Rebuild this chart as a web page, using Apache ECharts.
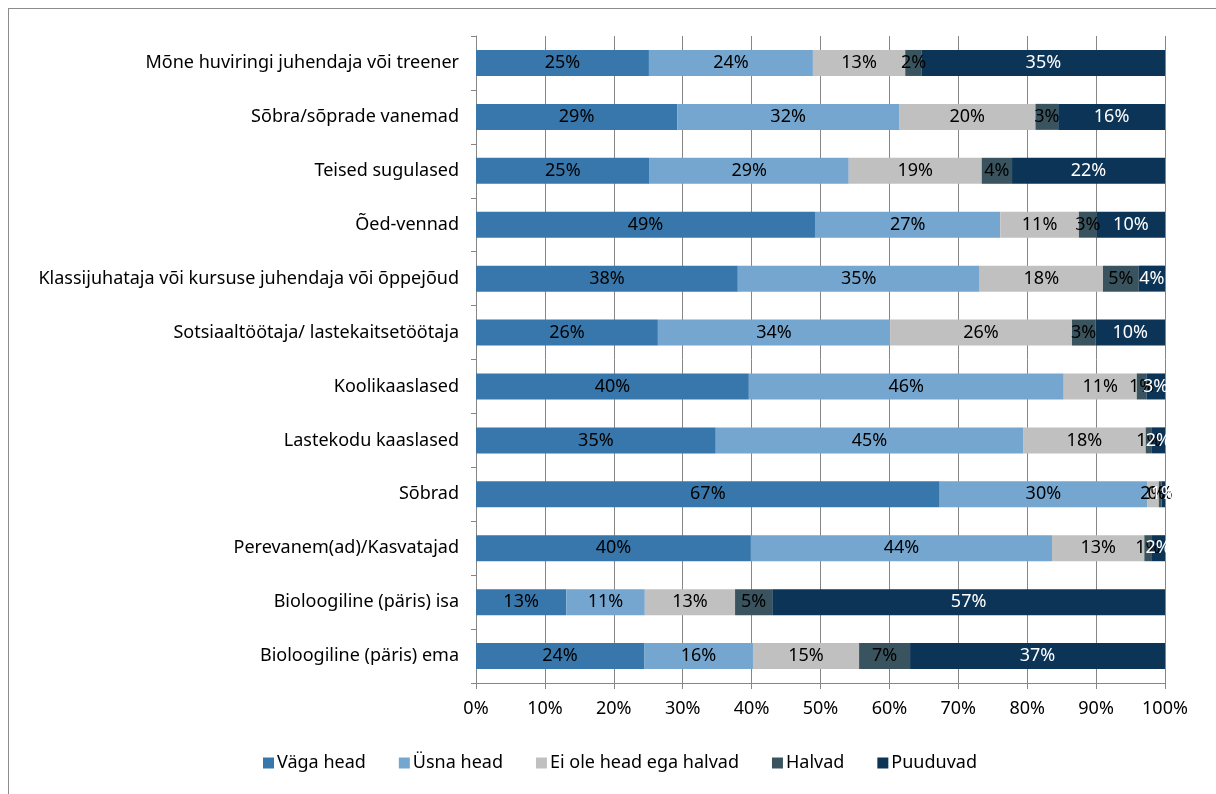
<!DOCTYPE html>
<html>
<head>
<meta charset="utf-8">
<script src="https://cdn.jsdelivr.net/npm/echarts@6/dist/echarts.min.js"></script>
<style>
  html, body { margin: 0; padding: 0; background: #fff; }
  #frame { position: absolute; left: 8px; top: 8px; width: 1300px; height: 900px; border: 1px solid #8c8c8c; }
  #chart { position: absolute; left: 0; top: 0; width: 1216px; height: 794px; }
</style>
</head>
<body>
<div id="frame"></div>
<div id="chart"></div>
<script>
// kategooriad ülevalt alla
var categories = [
  'Mõne huviringi juhendaja või treener',
  'Sõbra/sõprade vanemad',
  'Teised sugulased',
  'Õed-vennad',
  'Klassijuhataja või kursuse juhendaja või õppejõud',
  'Sotsiaaltöötaja/ lastekaitsetöötaja',
  'Koolikaaslased',
  'Lastekodu kaaslased',
  'Sõbrad',
  'Perevanem(ad)/Kasvatajad',
  'Bioloogiline (päris) isa',
  'Bioloogiline (päris) ema'
]
var seriesNames = ['Väga head', 'Üsna head', 'Ei ole head ega halvad', 'Halvad', 'Puuduvad']
var vagaHead  = [25.1, 29.2, 25.2, 49.2, 38.0, 26.4, 39.6, 34.8, 67.3, 39.9, 13.1, 24.4]
var usnaHead  = [23.8, 32.2, 28.9, 26.9, 35.1, 33.7, 45.7, 44.6, 30.1, 43.7, 11.4, 15.8]
var eiOle     = [13.4, 19.8, 19.3, 11.4, 17.9, 26.4, 10.6, 17.8, 1.7, 13.4, 13.1, 15.4]
var halvad    = [2.4, 3.3, 4.4, 2.6, 5.2, 3.4, 1.4, 0.9, 0.4, 1.0, 5.4, 7.4]
var puuduvad  = [35.3, 15.5, 22.2, 9.9, 3.8, 10.1, 2.7, 1.9, 0.5, 2.0, 57.0, 37.0]
var xTicks = ['0%', '10%', '20%', '30%', '40%', '50%', '60%', '70%', '80%', '90%', '100%']

var colors = ['#3877ab', '#75a6cf', '#c0c0c0', '#3a545f', '#0c3457']
var labelColors = ['#000', '#000', '#000', '#000', '#fff']
var allData = [vagaHead, usnaHead, eiOle, halvad, puuduvad]
var font = 'Noto Sans'
var fs = 18

var chart = echarts.init(document.getElementById('chart'), null, { renderer: 'canvas' })

var series = seriesNames.map(function (name, i) {
  return {
    name: name,
    type: 'bar',
    stack: 'total',
    barWidth: 26,
    data: allData[i],
    itemStyle: { color: colors[i] },
    label: {
      show: true,
      position: 'inside',
      color: labelColors[i],
      fontFamily: font,
      fontSize: fs,
      formatter: function (p) { return Math.round(p.value) + '%' }
    }
  }
})

var option = {
  backgroundColor: 'transparent',
  animation: false,
  color: colors,
  textStyle: { fontFamily: font },
  grid: { left: 476, right: 51, top: 36, bottom: 111, containLabel: false },
  legend: {
    data: seriesNames,
    bottom: 17,
    left: 258,
    itemWidth: 11,
    itemHeight: 11,
    itemGap: 33,
    icon: 'rect',
    textStyle: { fontFamily: font, fontSize: fs, color: '#000', padding: [0, 0, 0, -2] }
  },
  xAxis: {
    type: 'value',
    min: 0,
    max: 100,
    interval: 10,
    axisLine: { show: true, lineStyle: { color: '#868686' } },
    axisTick: { show: true, length: 6, lineStyle: { color: '#868686' } },
    splitLine: { show: true, lineStyle: { color: '#868686' } },
    axisLabel: {
      color: '#000', fontSize: fs, fontFamily: font, margin: 17,
      formatter: function (v) { return xTicks[Math.round(v / 10)] }
    }
  },
  yAxis: {
    type: 'category',
    inverse: true,
    data: categories,
    axisLine: { show: true, lineStyle: { color: '#868686' } },
    axisTick: { show: true, length: 5, lineStyle: { color: '#868686' } },
    axisLabel: { color: '#000', fontSize: fs, fontFamily: font, margin: 17 }
  },
  series: series
}
chart.setOption(option)
</script>
</body>
</html>
